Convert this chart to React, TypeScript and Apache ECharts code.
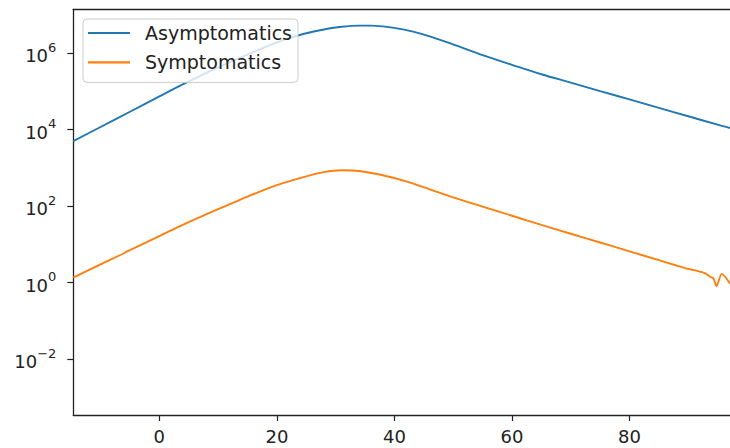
import { useEffect, useRef } from "react";
import * as echarts from "echarts";

// Daily counts (log-scale plot) for the two compartments.
const asymDays = [
  -14.64, -10, -5, 0, 5, 10, 15, 20, 22.5, 25, 28, 31, 34, 36, 38, 40, 43, 46,
  50, 55, 60, 65, 70, 75, 80, 85, 90, 95, 97.1,
];
const asymCounts = [
  4900, 11500, 28800, 72400, 178000, 417000, 891000, 1860000, 2510000, 3240000,
  4070000, 4790000, 5130000, 5130000, 4900000, 4470000, 3630000, 2690000,
  1660000, 871000, 485000, 275000, 166000, 100000, 60300, 36300, 21900, 13200,
  10800,
];

const sympDays = [
  -14.64, -10, -6, -5.6, -5, 0, 5, 10, 15, 20, 25, 28, 31, 34, 38, 42, 46, 50,
  55, 60, 65, 70, 75, 80, 85, 88, 90, 91.5, 92.8, 93.8, 94.3, 94.8, 95.7, 97.1,
];
const sympCounts = [
  1.32, 2.95, 5.75, 6.31, 6.92, 16.2, 37.2, 81.3, 174, 347, 589, 759, 851, 813,
  631, 437, 270, 166, 95.5, 55.0, 31.6, 18.6, 11.0, 6.46, 3.8, 2.75, 2.24, 2.0,
  1.74, 1.38, 1.26, 0.79, 1.66, 0.93,
];

const seriesNames = ["Asymptomatics", "Symptomatics"];
const xTicks = [0, 20, 40, 60, 80];
const yTickExponents = [-2, 0, 2, 4, 6];
const xLimits = [-14.64, 97.1];
const yLimits = [0.00034, 13700000];

const FONT = "DejaVu Sans";
const TEXT = "#222";
const SPINE = "#222";

const toPoints = (days: number[], counts: number[]) =>
  days.map((d, i) => [d, Math.log10(counts[i])]);

const powerLabel = (v: number) => {
  const e = Math.round(v);
  const exp = e < 0 ? "\u2212" + Math.abs(e) : String(e);
  return `{base|10}{sup|${exp}}`;
};

export default function App() {
  const ref = useRef<HTMLDivElement>(null);

  useEffect(() => {
    if (!ref.current) return;
    const chart = echarts.init(ref.current, undefined, { renderer: "svg" });
    const axisLine = { show: true, onZero: false, lineStyle: { color: SPINE, width: 1.3 } };

    chart.setOption({
      animation: false,
      color: ["#1f77b4", "#ff7f0e"],
      grid: { left: 73.3, right: 0, top: 9.3, bottom: 33, containLabel: false },
      legend: {
        data: seriesNames,
        orient: "vertical",
        left: 83,
        top: 19,
        icon: "rect",
        itemWidth: 42,
        itemHeight: 2.2,
        itemGap: 9.4,
        padding: [4, 6, 10, 5],
        selectedMode: false,
        backgroundColor: "rgba(255,255,255,0.8)",
        borderColor: "#cccccc",
        borderWidth: 1,
        borderRadius: 4,
        textStyle: {
          fontFamily: FONT,
          fontSize: 19,
          lineHeight: 20,
          color: TEXT,
          padding: [0, 0, 0, 10],
        },
      },
      xAxis: [
        {
          type: "value",
          min: xLimits[0],
          max: xLimits[1],
          axisLine,
          splitLine: { show: false },
          axisTick: {
            show: true,
            length: 6,
            customValues: xTicks,
            lineStyle: { color: SPINE, width: 1.2 },
          },
          axisLabel: {
            customValues: xTicks,
            fontFamily: FONT,
            fontSize: 18,
            color: TEXT,
            margin: 12,
          },
        },
        {
          type: "value",
          position: "top",
          min: xLimits[0],
          max: xLimits[1],
          axisLine,
          splitLine: { show: false },
          axisTick: { show: false },
          axisLabel: { show: false },
        },
      ],
      yAxis: {
        type: "value",
        min: Math.log10(yLimits[0]),
        max: Math.log10(yLimits[1]),
        axisLine,
        splitLine: { show: false },
        axisTick: {
          show: true,
          length: 6,
          customValues: yTickExponents,
          lineStyle: { color: SPINE, width: 1.2 },
        },
        axisLabel: {
          customValues: yTickExponents,
          formatter: powerLabel,
          margin: 17,
          rich: {
            base: {
              fontFamily: FONT,
              fontSize: 18,
              lineHeight: 24,
              verticalAlign: "bottom",
              color: TEXT,
            },
            sup: {
              fontFamily: FONT,
              fontSize: 13,
              lineHeight: 12,
              verticalAlign: "top",
              color: TEXT,
            },
          },
        },
      },
      series: [
        {
          name: seriesNames[0],
          type: "line",
          data: toPoints(asymDays, asymCounts),
          showSymbol: false,
          smooth: 0.35,
          lineStyle: { width: 1.9, color: "#1f77b4" },
          itemStyle: { color: "#1f77b4" },
        },
        {
          name: seriesNames[1],
          type: "line",
          data: toPoints(sympDays, sympCounts),
          showSymbol: false,
          smooth: 0.25,
          lineStyle: { width: 1.9, color: "#ff7f0e" },
          itemStyle: { color: "#ff7f0e" },
        },
      ],
    });

    return () => chart.dispose();
  }, []);

  return (
    <div
      ref={ref}
      style={{ position: "fixed", left: 0, top: 0, width: 730, height: 448, background: "#fff" }}
    />
  );
}
